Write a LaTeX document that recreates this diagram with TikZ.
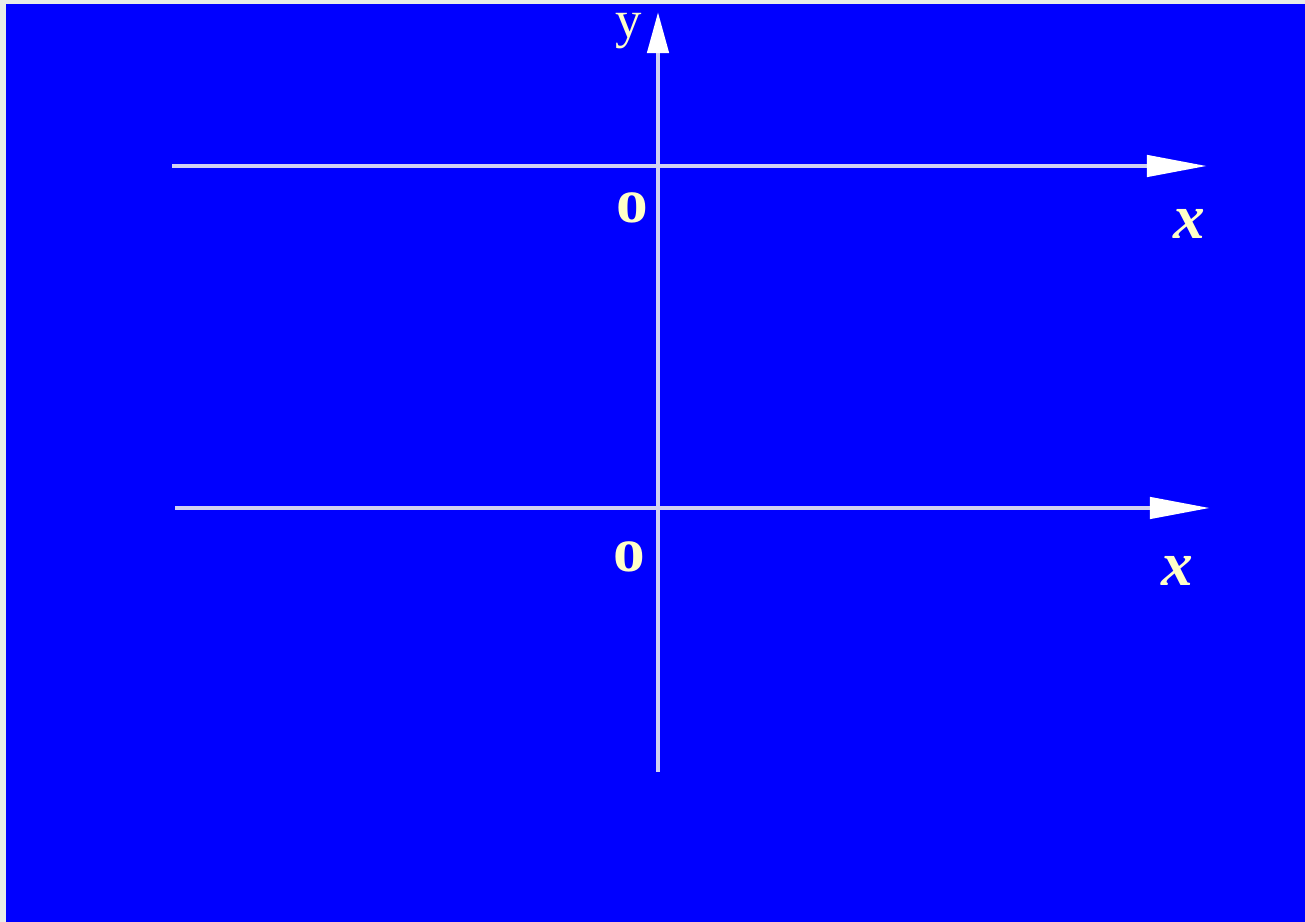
\documentclass[tikz,border=0pt]{standalone}
\usepackage{fontspec}
\setmainfont{Liberation Serif}
\usetikzlibrary{arrows.meta}
\definecolor{bgblue}{HTML}{0000FF}
\definecolor{margingray}{HTML}{E8ECE8}
\definecolor{axisgray}{HTML}{D0D0F2}
\definecolor{lblyellow}{HTML}{FFFFC8}

\begin{document}
\begin{tikzpicture}[
    x=0.01cm, y=-0.01cm,
    axis/.style={draw=axisgray, line width=0.045cm},
    xtip/.style={-{Triangle[length=0.6cm, width=0.21cm, color=white, fill=white]}},
    ytip/.style={-{Triangle[length=0.41cm, width=0.21cm, color=white, fill=white]}},
    lbl/.style={font=\fontsize{18}{20}\selectfont, text=lblyellow, inner sep=0pt}
]

% background with thin margin
\fill[margingray] (0,0) rectangle (1305,922);
\fill[bgblue] (6,4) rectangle (1305,922);
\useasboundingbox (0,0) rectangle (1305,922);

% axis end points
\coordinate (ytop) at (658,12);
\coordinate (ybot) at (658,772);
\coordinate (xastart) at (172,166);
\coordinate (xaend) at (1207,166);
\coordinate (xbstart) at (175,508);
\coordinate (xbend) at (1210,508);

% axes
\draw[axis, ytip] (ybot) -- (ytop);
\draw[axis, xtip] (xastart) -- (xaend);
\draw[axis, xtip] (xbstart) -- (xbend);

% labels
\node[lbl, font=\fontsize{15}{17}\selectfont] (ylbl) at (629,31) {y};
\node[lbl] (oa) at (632,208) {\textbf{o}};
\node[lbl] (ob) at (629,557) {\textbf{o}};
\node[lbl] (xa) at (1189,224) {\textbf{\textit{x}}};
\node[lbl] (xb) at (1177,571) {\textbf{\textit{x}}};

\end{tikzpicture}
\end{document}
